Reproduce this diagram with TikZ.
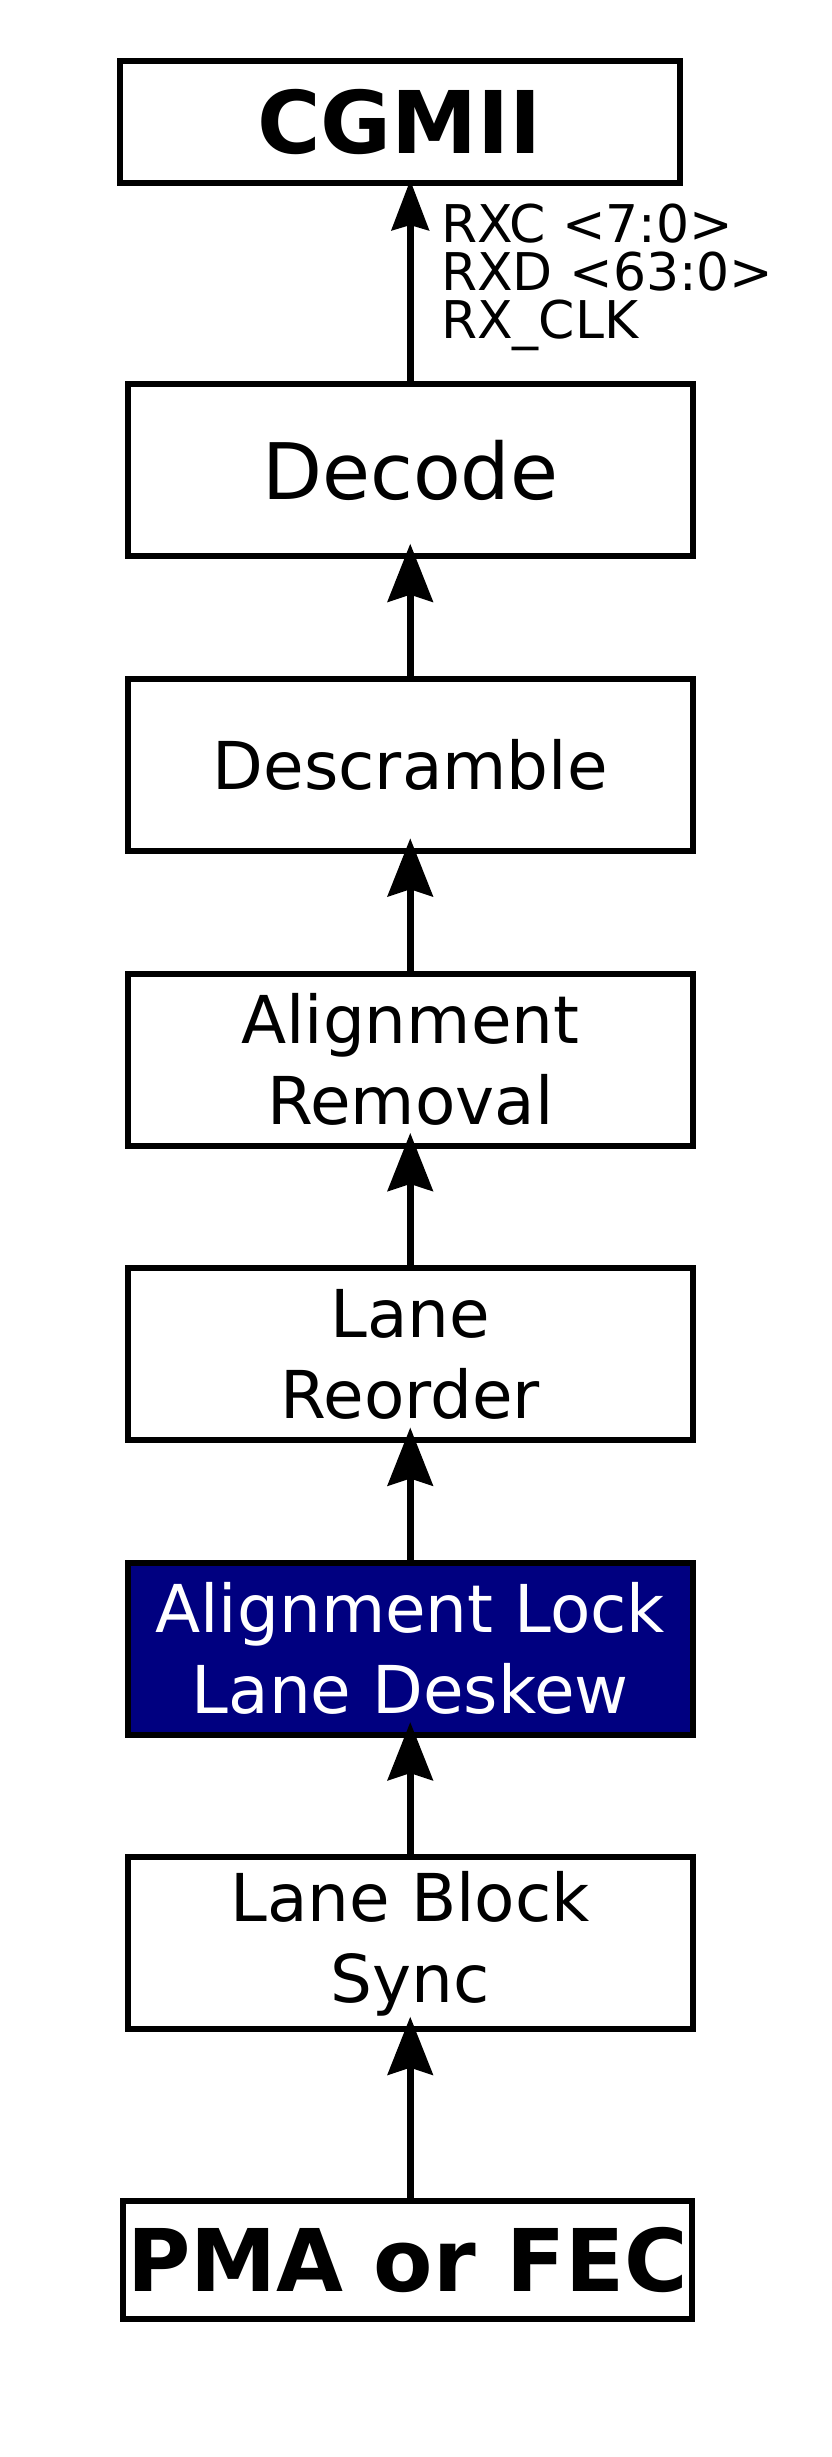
\documentclass[tikz,border=0pt]{standalone}
\usepackage{fontspec}
\setmainfont{DejaVu Sans}
\usetikzlibrary{arrows.meta}
\definecolor{locknavy}{RGB}{0,0,128}

\begin{document}
\begin{tikzpicture}[x=1pt, y=-1pt, line join=miter,
    block/.style={draw, line width=6pt, outer sep=0pt, inner sep=0pt,
        minimum width=564.5pt, minimum height=172pt, align=center,
        font=\fontsize{66}{81}\selectfont},
    endblock/.style={draw, line width=6pt, outer sep=0pt, inner sep=0pt,
        align=center, font=\bfseries\fontsize{86.5}{100}\selectfont},
    flow/.style={line width=7pt, -{Stealth[length=58pt, width=45pt, inset=7pt]},
        shorten >=-12.7pt},
    topflow/.style={line width=7pt, -{Stealth[length=50pt, width=37pt, inset=5pt]},
        shorten >=-3pt},
]
    \useasboundingbox (0,0) rectangle (832,2457);

    % 模块
    \node[endblock, minimum width=560pt, minimum height=121.7pt] (cgmii) at (399.6,122.2) {CGMII};
    \node[block, font=\fontsize{78}{92}\selectfont] (decode) at (410.25,470.4) {Decode};
    \node[block] (descr) at (410.25,765) {Descramble};
    \node[block] (alrem) at (410.25,1059.6) {Alignment\\Removal};
    \node[block] (reord) at (410.25,1354.2) {Lane\\Reorder};
    \node[block, fill=locknavy, text=white] (lock) at (410.25,1648.8) {Alignment Lock\\Lane Deskew};
    \node[block] (sync) at (410.25,1943.4) {Lane Block\\Sync};
    \node[endblock, minimum width=569pt, minimum height=118pt] (pma) at (407.5,2260) {PMA or FEC};

    % 箭头
    \draw[topflow] (decode.north) -- (decode.north |- cgmii.south);
    \foreach \lo/\hi in {descr/decode, alrem/descr, reord/alrem, lock/reord, sync/lock}
        \draw[flow] (\lo.north) -- (\hi.south);
    \draw[flow] (pma.north -| sync.south) -- (sync.south);

    \node[anchor=north west, inner sep=0pt, align=left, font=\fontsize{52}{48}\selectfont]
        (rxsig) at (441,204) {RXC <7:0>\\RXD <63:0>\\RX\_CLK};
\end{tikzpicture}
\end{document}
